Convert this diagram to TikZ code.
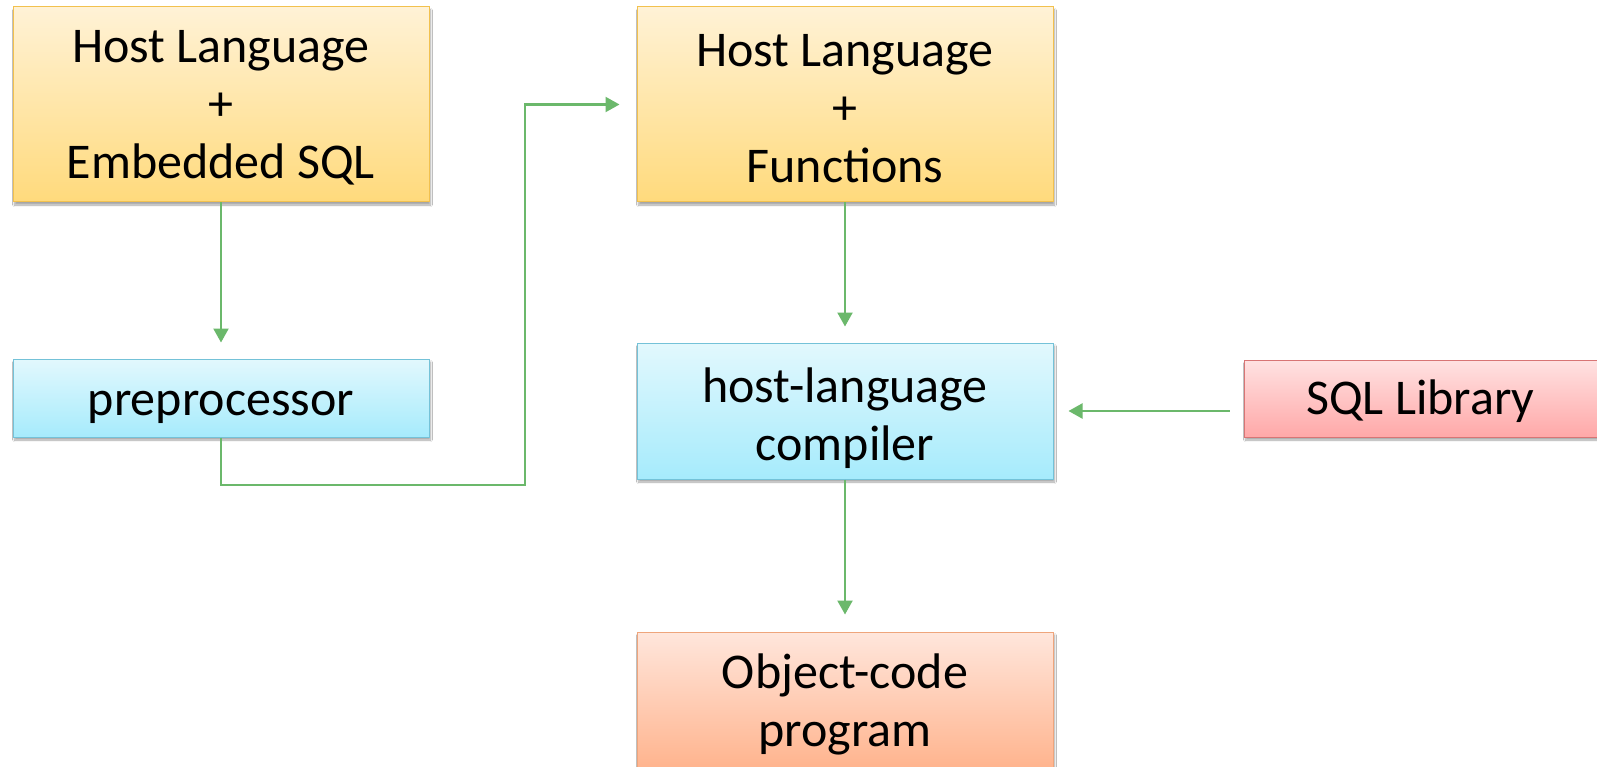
\documentclass[tikz,border=0pt]{standalone}
\usepackage{fontspec}
\setmainfont{Carlito}
\usetikzlibrary{arrows.meta,shadows.blur}
\definecolor{arrgreen}{HTML}{6BB86B}
\definecolor{ydraw}{HTML}{F2C14E}
\definecolor{yfill1}{HTML}{FFF2D6}
\definecolor{yfill2}{HTML}{FFDA7C}
\definecolor{bluedraw}{HTML}{74C2D8}
\definecolor{bfill1}{HTML}{E2F8FD}
\definecolor{bfill2}{HTML}{A6EBFC}
\definecolor{reddraw}{HTML}{D87575}
\definecolor{rfill1}{HTML}{FFE2E2}
\definecolor{rfill2}{HTML}{FFA8A8}
\definecolor{sdraw}{HTML}{EFA57C}
\definecolor{sfill1}{HTML}{FFE6DC}
\definecolor{sfill2}{HTML}{FFB48E}
\tikzset{
  box/.style={rectangle, line width=1pt, inner sep=0pt,
    blur shadow={shadow xshift=1.5pt, shadow yshift=-3pt, shadow blur steps=6, shadow opacity=35}},
  % caption set inside a box, lowered by the given amount
  txt/.style={align=center, inner sep=0pt, font=\fontsize{50}{58}\selectfont, yshift=-#1},
  oneline/.style={txt=#1, text height=37pt, text depth=13pt},
  yellowbox/.style={box, draw=ydraw, top color=yfill1, bottom color=yfill2},
  bluebox/.style={box, draw=bluedraw, top color=bfill1, bottom color=bfill2},
  redbox/.style={box, draw=reddraw, top color=rfill1, bottom color=rfill2},
  salmonbox/.style={box, draw=sdraw, top color=sfill1, bottom color=sfill2},
  arr/.style={draw=arrgreen, line width=2.2pt, -{Triangle[length=14pt,width=15pt]}}
}
\begin{document}
\begin{tikzpicture}[x=1pt,y=-1pt]
  \useasboundingbox[fill=white] (0,0) rectangle (1597,767);

  % boxes
  \node[yellowbox, minimum width=416pt, minimum height=195pt,
    label={[txt=3pt]center:Host Language\\+\\Embedded SQL}] (src) at (221,104.5) {};
  \node[bluebox, minimum width=416pt, minimum height=78pt,
    label={[oneline=5pt]center:preprocessor}] (pre) at (221,398) {};
  \node[yellowbox, minimum width=416pt, minimum height=195pt,
    label={[txt=4pt]center:Host Language\\+\\Functions}] (fun) at (845,104.5) {};
  \node[bluebox, minimum width=416pt, minimum height=136pt,
    label={[txt=7pt]center:host-language\\compiler}] (comp) at (845,411) {};
  \node[redbox, minimum width=353pt, minimum height=77pt,
    label={[oneline=3.5pt]center:SQL Library}] (lib) at (1420.5,398.5) {};
  \node[salmonbox, minimum width=416pt, minimum height=136pt,
    label={[txt=4pt]center:Object-code\\program}] (obj) at (845,700) {};

  % connectors
  \coordinate (bend) at (525,485);
  \draw[arr, shorten >=16pt] (src.south) -- (pre.north);
  \draw[arr, shorten >=17pt] (pre.south) |- (bend) |- (fun.west);
  \draw[arr, shorten >=16pt] (fun.south) -- (comp.north);
  \draw[arr, shorten <=14pt, shorten >=15pt] (lib.west |- comp.east) -- (comp.east);
  \draw[arr, shorten >=17pt] (comp.south) -- (obj.north);
\end{tikzpicture}
\end{document}
